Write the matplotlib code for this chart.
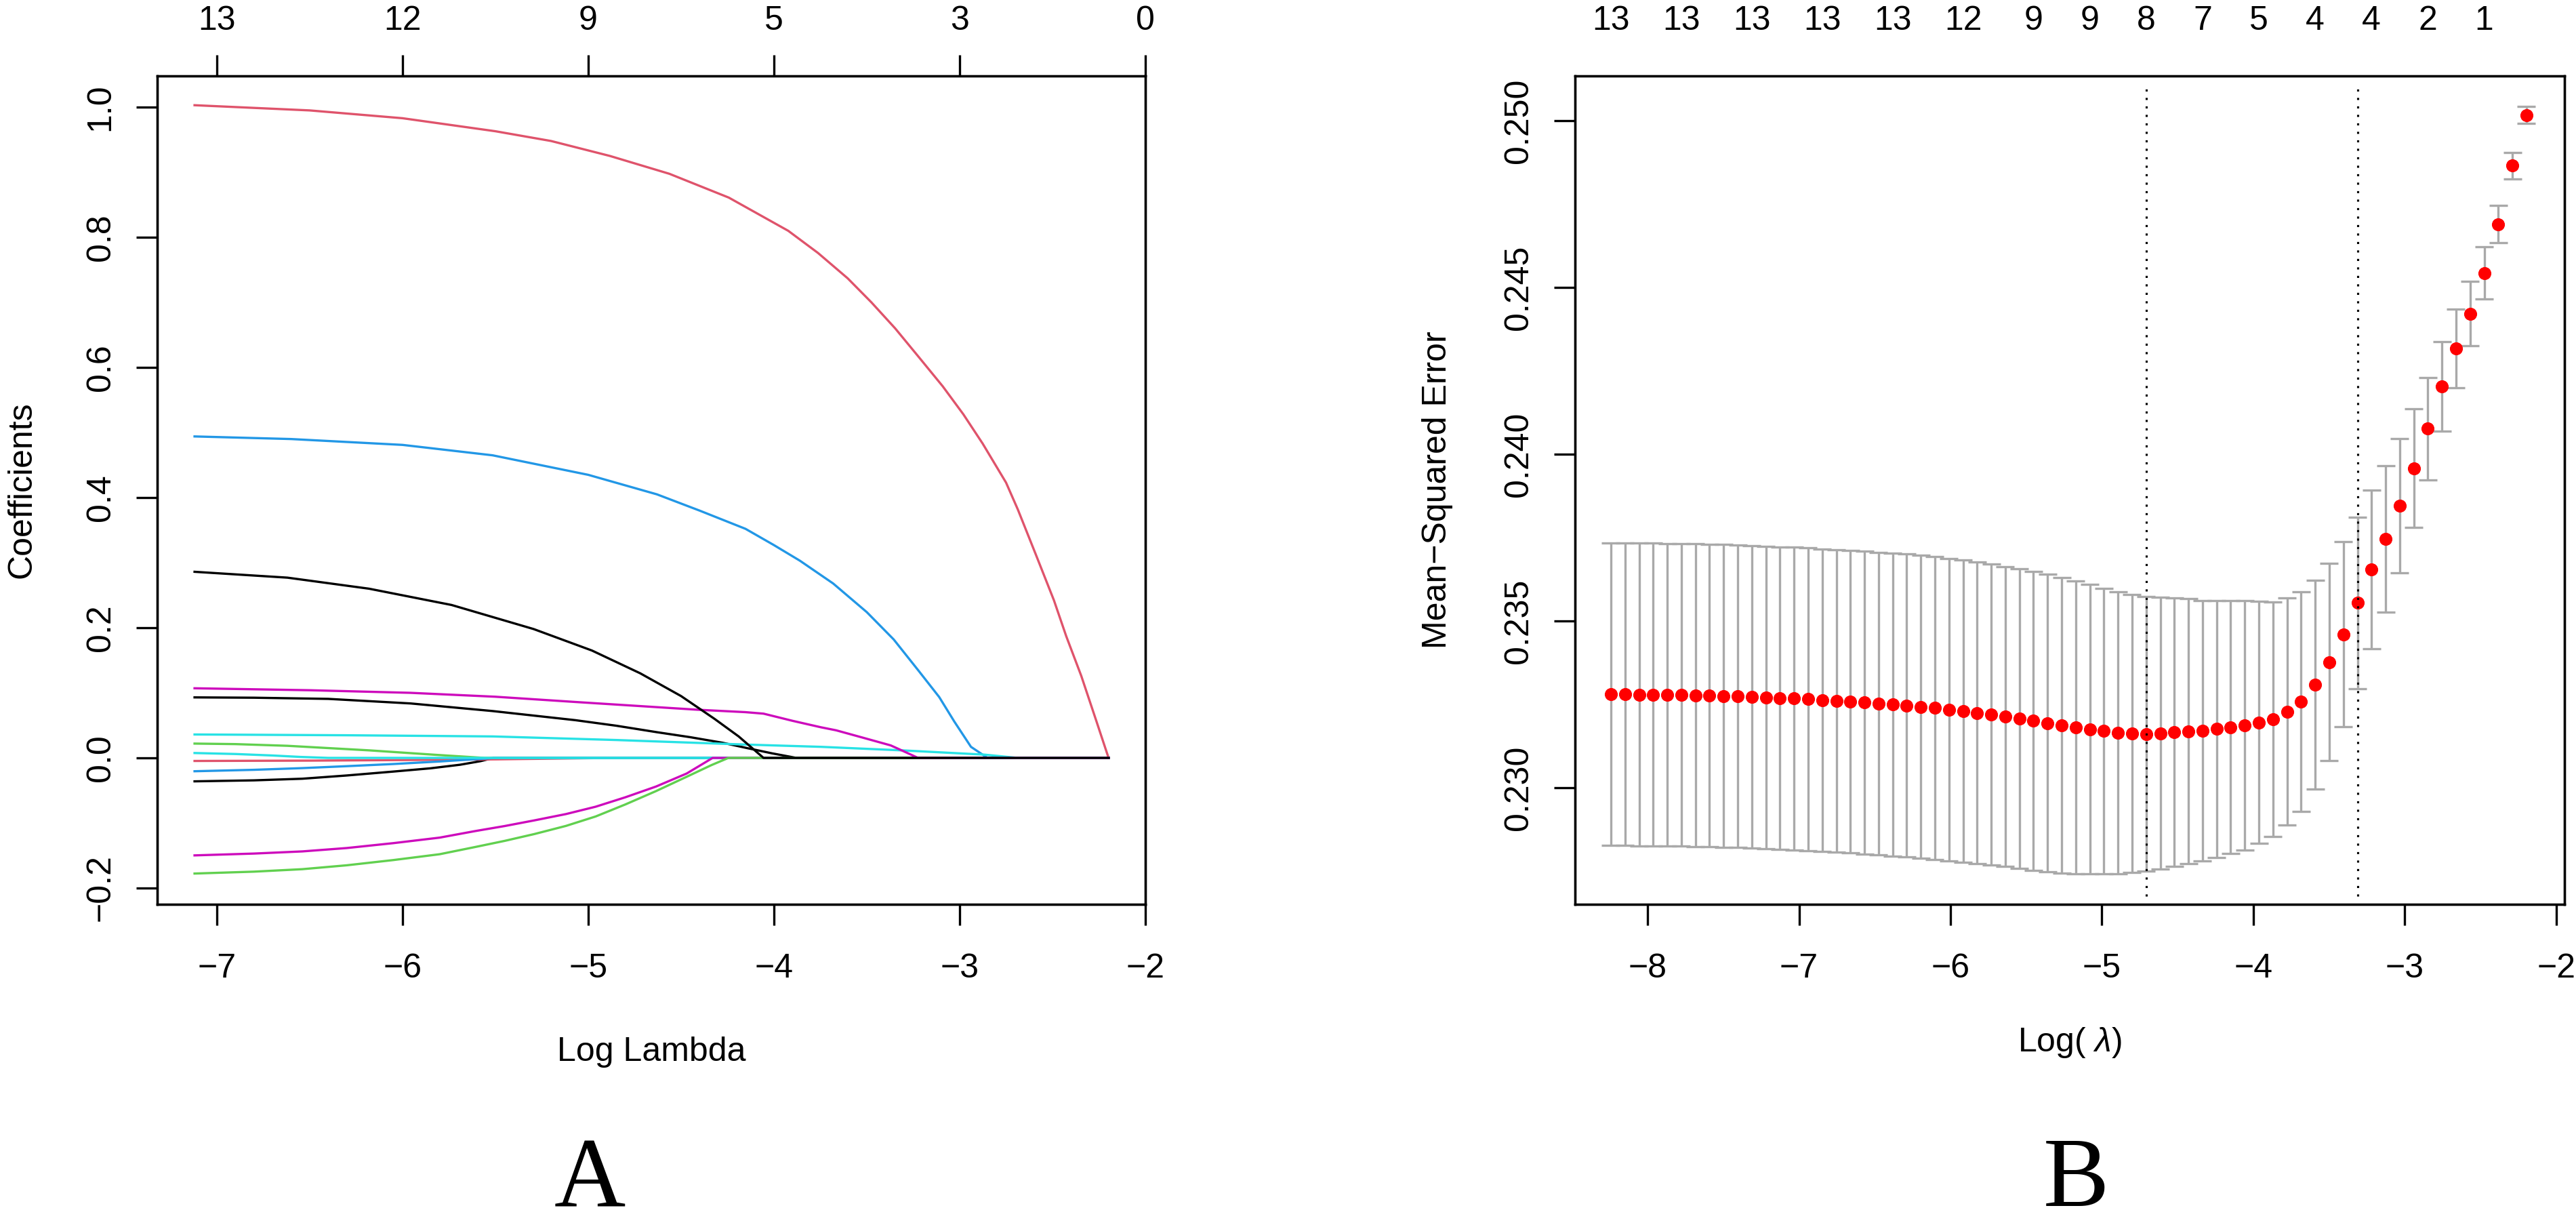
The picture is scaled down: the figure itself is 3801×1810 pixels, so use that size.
import numpy as np
import matplotlib.pyplot as plt

plt.rcParams['font.family'] = ['Liberation Sans', 'DejaVu Sans']
plt.rcParams['mathtext.fontset'] = 'custom'
plt.rcParams['mathtext.it'] = 'Liberation Sans:italic'

# ---------------- panel A: coefficient paths (log lambda, coefficient) ----------------
blk_small_x = [-7.12, -6.8, -6.54, -6.3, -6.05, -5.85, -5.69, -5.58, -5.51, -2.197]
blk_small_y = [-0.036, -0.0345, -0.032, -0.027, -0.021, -0.016, -0.0105, -0.005, 0.0, 0.0]

pink_small_x = [-7.12, -6.5, -6.0, -5.5, -4.88, -2.197]
pink_small_y = [-0.0047, -0.0042, -0.0033, -0.0022, 0.0, 0.0]

grn_small_x = [-7.12, -6.9, -6.62, -6.18, -5.82, -5.56, -2.197]
grn_small_y = [0.022, 0.0212, 0.0186, 0.0116, 0.0047, 0.0, 0.0]

blue_small_x = [-7.12, -6.8, -6.54, -6.3, -6.05, -5.8, -5.61, -5.5, -2.197]
blue_small_y = [-0.0205, -0.0183, -0.0157, -0.0127, -0.0094, -0.0055, -0.002, 0.0, 0.0]

cyan_small_x = [-7.12, -6.9, -6.7, -6.55, -6.4, -2.197]
cyan_small_y = [0.0075, 0.006, 0.0037, 0.0015, 0.0, 0.0]

mag_neg_x = [-7.12, -6.8, -6.54, -6.3, -6.05, -5.8, -5.61, -5.45, -5.29, -5.12, -4.96, -4.8,
             -4.635, -4.47, -4.33, -2.197]
mag_neg_y = [-0.1498, -0.147, -0.1437, -0.1385, -0.131, -0.1225, -0.1125, -0.1047, -0.096, -0.0863,
             -0.075, -0.0605, -0.044, -0.024, 0.0, 0.0]

blk_mid_x = [-7.12, -6.8, -6.4, -5.957, -5.515, -5.07, -4.85, -4.63, -4.45, -4.277, -4.14, -4.01,
             -3.879, -2.197]
blk_mid_y = [0.093, 0.0925, 0.0907, 0.0837, 0.072, 0.058, 0.0495, 0.0395, 0.0318, 0.0233, 0.0148,
             0.007, 0.0, 0.0]

red_big_x = [-7.12, -6.5, -6.0, -5.5, -5.2, -4.883, -4.563, -4.243, -3.923, -3.763, -3.603, -3.475,
             -3.347, -3.22, -3.091, -2.98, -2.876, -2.75, -2.687, -2.589, -2.492, -2.426, -2.345,
             -2.263, -2.198]
red_big_y = [1.003, 0.995, 0.983, 0.963, 0.948, 0.925, 0.8976, 0.861, 0.810, 0.776, 0.737, 0.700,
             0.660, 0.616, 0.571, 0.528, 0.483, 0.423, 0.382, 0.312, 0.242, 0.187, 0.126,
             0.056, 0.0]

grn_neg_x = [-7.12, -6.8, -6.54, -6.3, -6.05, -5.8, -5.61, -5.45, -5.29, -5.12, -4.96, -4.8, -4.635,
             -4.47, -4.336, -4.245, -2.197]
grn_neg_y = [-0.1777, -0.1748, -0.171, -0.165, -0.157, -0.148, -0.137, -0.1275, -0.117, -0.1045,
             -0.090, -0.0715, -0.051, -0.029, -0.011, 0.0, 0.0]

blue_big_x = [-7.12, -6.6, -6.0, -5.515, -5.0, -4.63, -4.4, -4.153, -4.0, -3.86, -3.681, -3.50,
              -3.355, -3.224, -3.11, -3.029, -2.939, -2.85, -2.197]
blue_big_y = [0.494, 0.490, 0.481, 0.465, 0.435, 0.405, 0.380, 0.352, 0.327, 0.303, 0.268, 0.224,
              0.182, 0.135, 0.0935, 0.056, 0.017, 0.0, 0.0]

cyan_long_x = [-7.12, -6.3, -5.515, -4.85, -4.153, -3.746, -3.304, -2.866, -2.687, -2.197]
cyan_long_y = [0.036, 0.0348, 0.033, 0.0275, 0.0205, 0.017, 0.0115, 0.005, 0.0, 0.0]

mag_pos_x = [-7.12, -6.5, -5.957, -5.5, -5.072, -4.41, -4.153, -4.056, -3.9, -3.746, -3.665, -3.52,
             -3.371, -3.3, -3.224, -2.197]
mag_pos_y = [0.107, 0.104, 0.100, 0.094, 0.086, 0.074, 0.0703, 0.068, 0.057, 0.047, 0.0424, 0.031,
             0.0192, 0.010, 0.0, 0.0]

blk_big_x = [-7.12, -6.62, -6.18, -5.736, -5.294, -4.98, -4.72, -4.50, -4.32, -4.19, -4.056, -2.197]
blk_big_y = [0.286, 0.277, 0.260, 0.235, 0.198, 0.165, 0.130, 0.095, 0.060, 0.033, 0.0, 0.0]

a_top_ticks = [-7, -6, -5, -4, -3, -2]
a_top_labels = ['13', '12', '9', '5', '3', '0']

# ---------------- panel B: cross-validation curve ----------------
log_lambda = [-8.242, -8.149, -8.056, -7.963, -7.870, -7.777, -7.684, -7.591, -7.498, -7.405,
              -7.312, -7.219, -7.126, -7.033, -6.940, -6.847, -6.754, -6.661, -6.568, -6.475,
              -6.382, -6.289, -6.196, -6.103, -6.010, -5.917, -5.824, -5.731, -5.638, -5.545,
              -5.452, -5.359, -5.266, -5.173, -5.080, -4.987, -4.894, -4.801, -4.708, -4.615,
              -4.522, -4.429, -4.336, -4.243, -4.150, -4.057, -3.964, -3.871, -3.778, -3.685,
              -3.592, -3.499, -3.406, -3.313, -3.220, -3.127, -3.034, -2.941, -2.848, -2.755,
              -2.662, -2.569, -2.476, -2.383, -2.290, -2.197]
cv_mse = [0.23281, 0.23281, 0.23280, 0.23280, 0.23279, 0.23279, 0.23278, 0.23277, 0.23276, 0.23275,
          0.23273, 0.23271, 0.23269, 0.23268, 0.23266, 0.23263, 0.23261, 0.23259, 0.23256, 0.23253,
          0.23250, 0.23247, 0.23243, 0.23240, 0.23235, 0.23230, 0.23225, 0.23220, 0.23214, 0.23208,
          0.23201, 0.23194, 0.23188, 0.23181, 0.23176, 0.23171, 0.23166, 0.23163, 0.23162, 0.23164,
          0.23167, 0.23170, 0.23172, 0.23177, 0.23182, 0.23188, 0.23196, 0.23206, 0.23229, 0.23259,
          0.23310, 0.23377, 0.23461, 0.23555, 0.23655, 0.23747, 0.23846, 0.23959, 0.24077, 0.24204,
          0.24318, 0.24422, 0.24544, 0.24690, 0.24866, 0.25018]
cv_se = [0.00453, 0.00453, 0.00454, 0.00454, 0.00454, 0.00454, 0.00454, 0.00454, 0.00454, 0.00454,
         0.00454, 0.00454, 0.00454, 0.00454, 0.00454, 0.00454, 0.00454, 0.00454, 0.00454, 0.00454,
         0.00454, 0.00454, 0.00454, 0.00454, 0.00453, 0.00453, 0.00452, 0.00451, 0.00450, 0.00449,
         0.00448, 0.00446, 0.00443, 0.00439, 0.00434, 0.00428, 0.00423, 0.00417, 0.00412, 0.00407,
         0.00402, 0.00397, 0.00390, 0.00385, 0.00379, 0.00374, 0.00363, 0.00352, 0.00341, 0.00329,
         0.00313, 0.00296, 0.00278, 0.00257, 0.00238, 0.00219, 0.00201, 0.00178, 0.00154, 0.00135,
         0.00118, 0.00097, 0.00078, 0.00056, 0.00040, 0.00026]
b_top_index = [0, 5, 10, 15, 20, 25, 30, 34, 38, 42, 46, 50, 54, 58, 62]
b_top_labels = ['13', '13', '13', '13', '13', '12', '9', '9', '8', '7', '5', '4', '4', '2', '1']
idx_min = 38
idx_1se = 53

W, H, DPI = 3801, 1810, 300
fig = plt.figure(figsize=(W / DPI, H / DPI), dpi=DPI)


def px_axes(left, right, top, bottom):
    return fig.add_axes([left / W, (H - bottom) / H, (right - left) / W, (bottom - top) / H])


def style(ax):
    for s in ax.spines.values():
        s.set_linewidth(0.8)
    ax.tick_params(axis='x', length=7.4, width=0.8, pad=10, labelsize=12)
    ax.tick_params(axis='y', length=7.4, width=0.8, pad=7.1, labelsize=12)
    for lab in ax.get_yticklabels():
        lab.set_rotation(90)
        lab.set_va('center')


# ---------- A ----------
axA = px_axes(232, 1690, 112, 1334)
r_black, r_red, r_green, r_blue, r_cyan, r_mag = '#000000', '#DF536B', '#61D04F', '#2297E6', '#28E2E5', '#CD0BBC'
paths = [
    (blk_small_x, blk_small_y, r_black),
    (pink_small_x, pink_small_y, r_red),
    (grn_small_x, grn_small_y, r_green),
    (blue_small_x, blue_small_y, r_blue),
    (cyan_small_x, cyan_small_y, r_cyan),
    (mag_neg_x, mag_neg_y, r_mag),
    (blk_mid_x, blk_mid_y, r_black),
    (red_big_x, red_big_y, r_red),
    (grn_neg_x, grn_neg_y, r_green),
    (blue_big_x, blue_big_y, r_blue),
    (cyan_long_x, cyan_long_y, r_cyan),
    (mag_pos_x, mag_pos_y, r_mag),
    (blk_big_x, blk_big_y, r_black),
]
for xs, ys, c in paths:
    axA.plot(xs, ys, color=c, lw=0.8, solid_joinstyle='round')

axA.set_xlim(-7.321, -2.0)
axA.set_ylim(-0.225, 1.048)
axA.set_xticks([-7, -6, -5, -4, -3, -2])
axA.set_yticks([-0.2, 0.0, 0.2, 0.4, 0.6, 0.8, 1.0])
axA.set_yticklabels(['\u22120.2', '0.0', '0.2', '0.4', '0.6', '0.8', '1.0'])
style(axA)
axA.set_xlabel('Log Lambda', fontsize=12)
axA.xaxis.label.set_va('center')
axA.xaxis.set_label_coords(0.5, -0.178)
axA.set_ylabel('Coefficients', fontsize=12)
axA.yaxis.label.set_va('center')
axA.yaxis.set_label_coords(-0.137, 0.5)

topA = axA.twiny()
topA.set_xlim(axA.get_xlim())
topA.set_xticks(a_top_ticks)
topA.set_xticklabels(a_top_labels)
topA.tick_params(axis='x', length=7.4, width=0.8, pad=6.6, labelsize=12)

# ---------- B ----------
axB = px_axes(2324, 3784, 112, 1334)
lam = np.array(log_lambda)
mse = np.array(cv_mse)
se = np.array(cv_se)
barw = (lam.max() - lam.min()) * 0.01
axB.vlines(lam, mse - se, mse + se, color='darkgrey', lw=0.8)
axB.hlines(mse + se, lam - barw, lam + barw, color='darkgrey', lw=0.8)
axB.hlines(mse - se, lam - barw, lam + barw, color='darkgrey', lw=0.8)
axB.plot(lam, mse, 'o', color='red', ms=4.6, mew=0, zorder=3)
axB.axvline(lam[idx_min], ymin=0.01, ymax=0.99, color='black', lw=0.75, ls=(0, (1, 3)), zorder=4)
axB.axvline(lam[idx_1se], ymin=0.01, ymax=0.99, color='black', lw=0.75, ls=(0, (1, 3)), zorder=4)

axB.set_xlim(-8.479, -1.946)
axB.set_ylim(0.22651, 0.25135)
axB.set_xticks([-8, -7, -6, -5, -4, -3, -2])
axB.set_yticks([0.230, 0.235, 0.240, 0.245, 0.250])
axB.set_yticklabels(['0.230', '0.235', '0.240', '0.245', '0.250'])
style(axB)
axB.set_xlabel('Log( $\\mathit{\\lambda}$)', fontsize=12)
axB.xaxis.label.set_va('center')
axB.xaxis.set_label_coords(0.5, -0.167)
axB.set_ylabel('Mean\u2212Squared Error', fontsize=12)
axB.yaxis.label.set_va('center')
axB.yaxis.set_label_coords(-0.139, 0.5)

topB = axB.twiny()
topB.set_xlim(axB.get_xlim())
topB.set_xticks(lam[b_top_index])
topB.set_xticklabels(b_top_labels)
topB.tick_params(axis='x', length=0, pad=14, labelsize=12)

fig.text(870 / W, 0.0, 'A', family='Liberation Serif', fontsize=35, ha='center', va='bottom')
fig.text(3063 / W, 0.0, 'B', family='Liberation Serif', fontsize=35, ha='center', va='bottom')

fig.savefig('out.png', dpi=DPI)
